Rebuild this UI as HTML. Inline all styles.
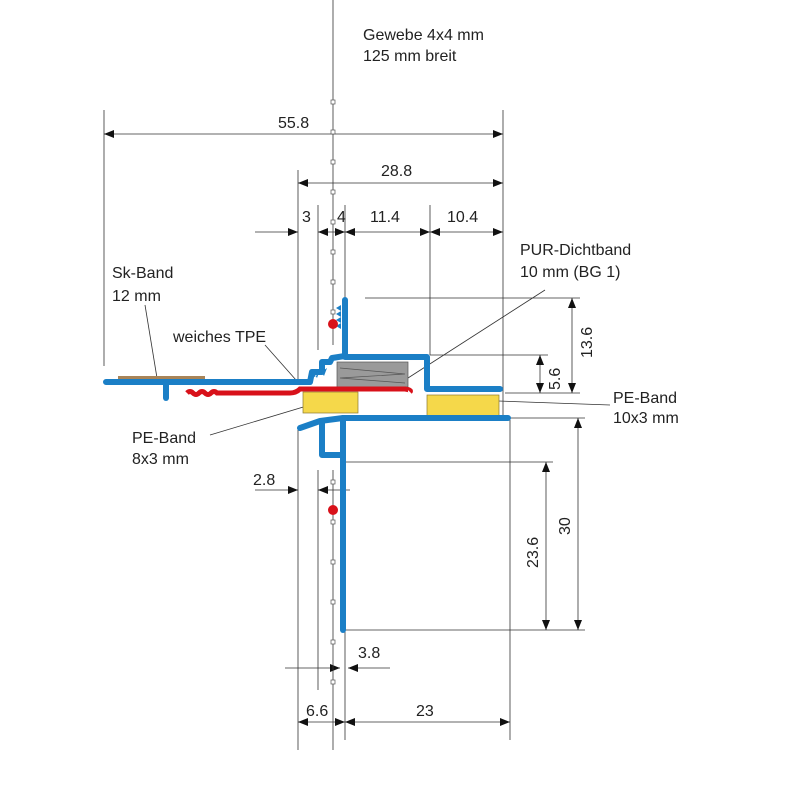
<!DOCTYPE html>
<html><head><meta charset="utf-8"><style>
html,body{margin:0;padding:0;background:#fff}
svg{display:block}
text{font-family:"Liberation Sans",sans-serif;font-size:16px;fill:#222}
</style></head><body>
<svg width="800" height="800" viewBox="0 0 800 800">
<defs><marker id="a" markerWidth="10" markerHeight="8" refX="10" refY="4" orient="auto-start-reverse" markerUnits="userSpaceOnUse"><path d="M0,0 L10,4 L0,8z" fill="#111"/></marker></defs>
<g stroke="#333" stroke-width="0.8" fill="none">
<line x1="104" y1="110" x2="104" y2="366"/>
<line x1="503" y1="110" x2="503" y2="420"/>
<line x1="298" y1="170" x2="298" y2="380"/>
<line x1="318" y1="205" x2="318" y2="350"/>
<line x1="345" y1="205" x2="345" y2="300"/>
<line x1="430" y1="205" x2="430" y2="355"/>
<line x1="365" y1="298" x2="580" y2="298"/>
<line x1="430" y1="355" x2="548" y2="355"/>
<line x1="505" y1="393" x2="580" y2="393"/>
<line x1="510" y1="418" x2="585" y2="418"/>
<line x1="345" y1="462" x2="553" y2="462"/>
<line x1="340" y1="630" x2="585" y2="630"/>
<line x1="298" y1="430" x2="298" y2="750"/>
<line x1="318" y1="470" x2="318" y2="690"/>
<line x1="345" y1="630" x2="345" y2="740"/>
<line x1="510" y1="420" x2="510" y2="740"/>
<line x1="104" y1="134" x2="503" y2="134" marker-start="url(#a)" marker-end="url(#a)"/>
<line x1="298" y1="183" x2="503" y2="183" marker-start="url(#a)" marker-end="url(#a)"/>
<line x1="255" y1="232" x2="298" y2="232" marker-end="url(#a)"/>
<line x1="318" y1="232" x2="345" y2="232" marker-start="url(#a)" marker-end="url(#a)"/>
<line x1="345" y1="232" x2="430" y2="232" marker-start="url(#a)" marker-end="url(#a)"/>
<line x1="430" y1="232" x2="503" y2="232" marker-start="url(#a)" marker-end="url(#a)"/>
<line x1="572" y1="298" x2="572" y2="393" marker-start="url(#a)" marker-end="url(#a)"/>
<line x1="540" y1="355" x2="540" y2="393" marker-start="url(#a)" marker-end="url(#a)"/>
<line x1="578" y1="418" x2="578" y2="630" marker-start="url(#a)" marker-end="url(#a)"/>
<line x1="546" y1="462" x2="546" y2="630" marker-start="url(#a)" marker-end="url(#a)"/>
<line x1="255" y1="490" x2="298" y2="490" marker-end="url(#a)"/>
<line x1="350" y1="490" x2="318" y2="490" marker-end="url(#a)"/>
<line x1="285" y1="668" x2="340" y2="668" marker-end="url(#a)"/>
<line x1="390" y1="668" x2="348" y2="668" marker-end="url(#a)"/>
<line x1="298" y1="722" x2="345" y2="722" marker-start="url(#a)" marker-end="url(#a)"/>
<line x1="345" y1="722" x2="510" y2="722" marker-start="url(#a)" marker-end="url(#a)"/>
<line x1="145" y1="305" x2="157" y2="378"/>
<line x1="265" y1="345" x2="296" y2="380"/>
<line x1="545" y1="290" x2="408" y2="378"/>
<line x1="210" y1="435" x2="320" y2="402"/>
<line x1="610" y1="405" x2="470" y2="400"/>
<line x1="333" y1="0" x2="333" y2="345"/>
<line x1="333" y1="470" x2="333" y2="750"/>
</g>
<g fill="#fff" stroke="#555" stroke-width="0.7">
<rect x="331" y="100" width="4" height="4"/><rect x="331" y="130" width="4" height="4"/><rect x="331" y="160" width="4" height="4"/><rect x="331" y="190" width="4" height="4"/><rect x="331" y="220" width="4" height="4"/><rect x="331" y="250" width="4" height="4"/><rect x="331" y="280" width="4" height="4"/><rect x="331" y="310" width="4" height="4"/>
<rect x="331" y="480" width="4" height="4"/><rect x="331" y="520" width="4" height="4"/><rect x="331" y="560" width="4" height="4"/><rect x="331" y="600" width="4" height="4"/><rect x="331" y="640" width="4" height="4"/><rect x="331" y="680" width="4" height="4"/>
</g>
<rect x="118" y="376" width="87" height="4" fill="#a88458"/>
<rect x="337" y="362" width="71" height="25" fill="#9a9a9a" stroke="#555" stroke-width="0.7"/>
<path d="M340,368 L405,374 L340,378 L405,383" stroke="#555" stroke-width="0.7" fill="none"/>
<rect x="303" y="392" width="55" height="21" fill="#f5d84a" stroke="#8a7a30" stroke-width="0.7"/>
<rect x="427" y="395" width="72" height="22" fill="#f5d84a" stroke="#8a7a30" stroke-width="0.7"/>
<path d="M187,393 Q190,390 193,393 Q196,396 199,393 Q202,390 205,393 Q208,396 211,393 Q214,390 217,393 L290,393 Q296,393 300,389 L405,389 Q412,390 410,392" stroke="#d8111a" stroke-width="5" fill="none"/>
<g stroke="#1b7fc6" stroke-width="6" fill="none" stroke-linejoin="round" stroke-linecap="round">
<path d="M106,382 L296,382 L310,382 L312,372 L322,372 L322,362 L330,362 L332,358 L345,356"/>
<line x1="166" y1="382" x2="166" y2="398"/>
<path d="M345,300 L345,357 L427,357 L427,389 L500,389"/>
<path d="M300,428 L320,421 L343,418 L508,418"/>
<path d="M343,418 L343,630"/>
<path d="M322,421 L322,455 L343,455"/>
</g>
<g fill="#1b7fc6">
<path d="M341,305 l-5,3 l5,3 l-5,3 l5,3 l-5,3 l5,3 l-5,3 l5,3 z"/>
<path d="M310,380 l3,-8 l4,6 l3,-8 l4,6 l3,-8 z"/>
</g>
<g fill="#d8111a"><circle cx="333" cy="324" r="5"/><circle cx="333" cy="510" r="5"/></g>
<text x="363" y="40">Gewebe 4x4 mm</text>
<text x="363" y="61">125 mm breit</text>
<text x="278" y="128">55.8</text>
<text x="381" y="176">28.8</text>
<text x="302" y="222">3</text>
<text x="337" y="222">4</text>
<text x="370" y="222">11.4</text>
<text x="447" y="222">10.4</text>
<text x="520" y="255">PUR-Dichtband</text>
<text x="520" y="277">10 mm (BG 1)</text>
<text x="112" y="278">Sk-Band</text>
<text x="112" y="301">12 mm</text>
<text x="173" y="342">weiches TPE</text>
<text x="132" y="443">PE-Band</text>
<text x="132" y="464">8x3 mm</text>
<text x="613" y="403">PE-Band</text>
<text x="613" y="423">10x3 mm</text>
<text x="253" y="485">2.8</text>
<text x="358" y="658">3.8</text>
<text x="306" y="716">6.6</text>
<text x="416" y="716">23</text>
<text transform="translate(592,358) rotate(-90)">13.6</text>
<text transform="translate(560,390) rotate(-90)">5.6</text>
<text transform="translate(538,568) rotate(-90)">23.6</text>
<text transform="translate(570,535) rotate(-90)">30</text>
</svg>
</body></html>
